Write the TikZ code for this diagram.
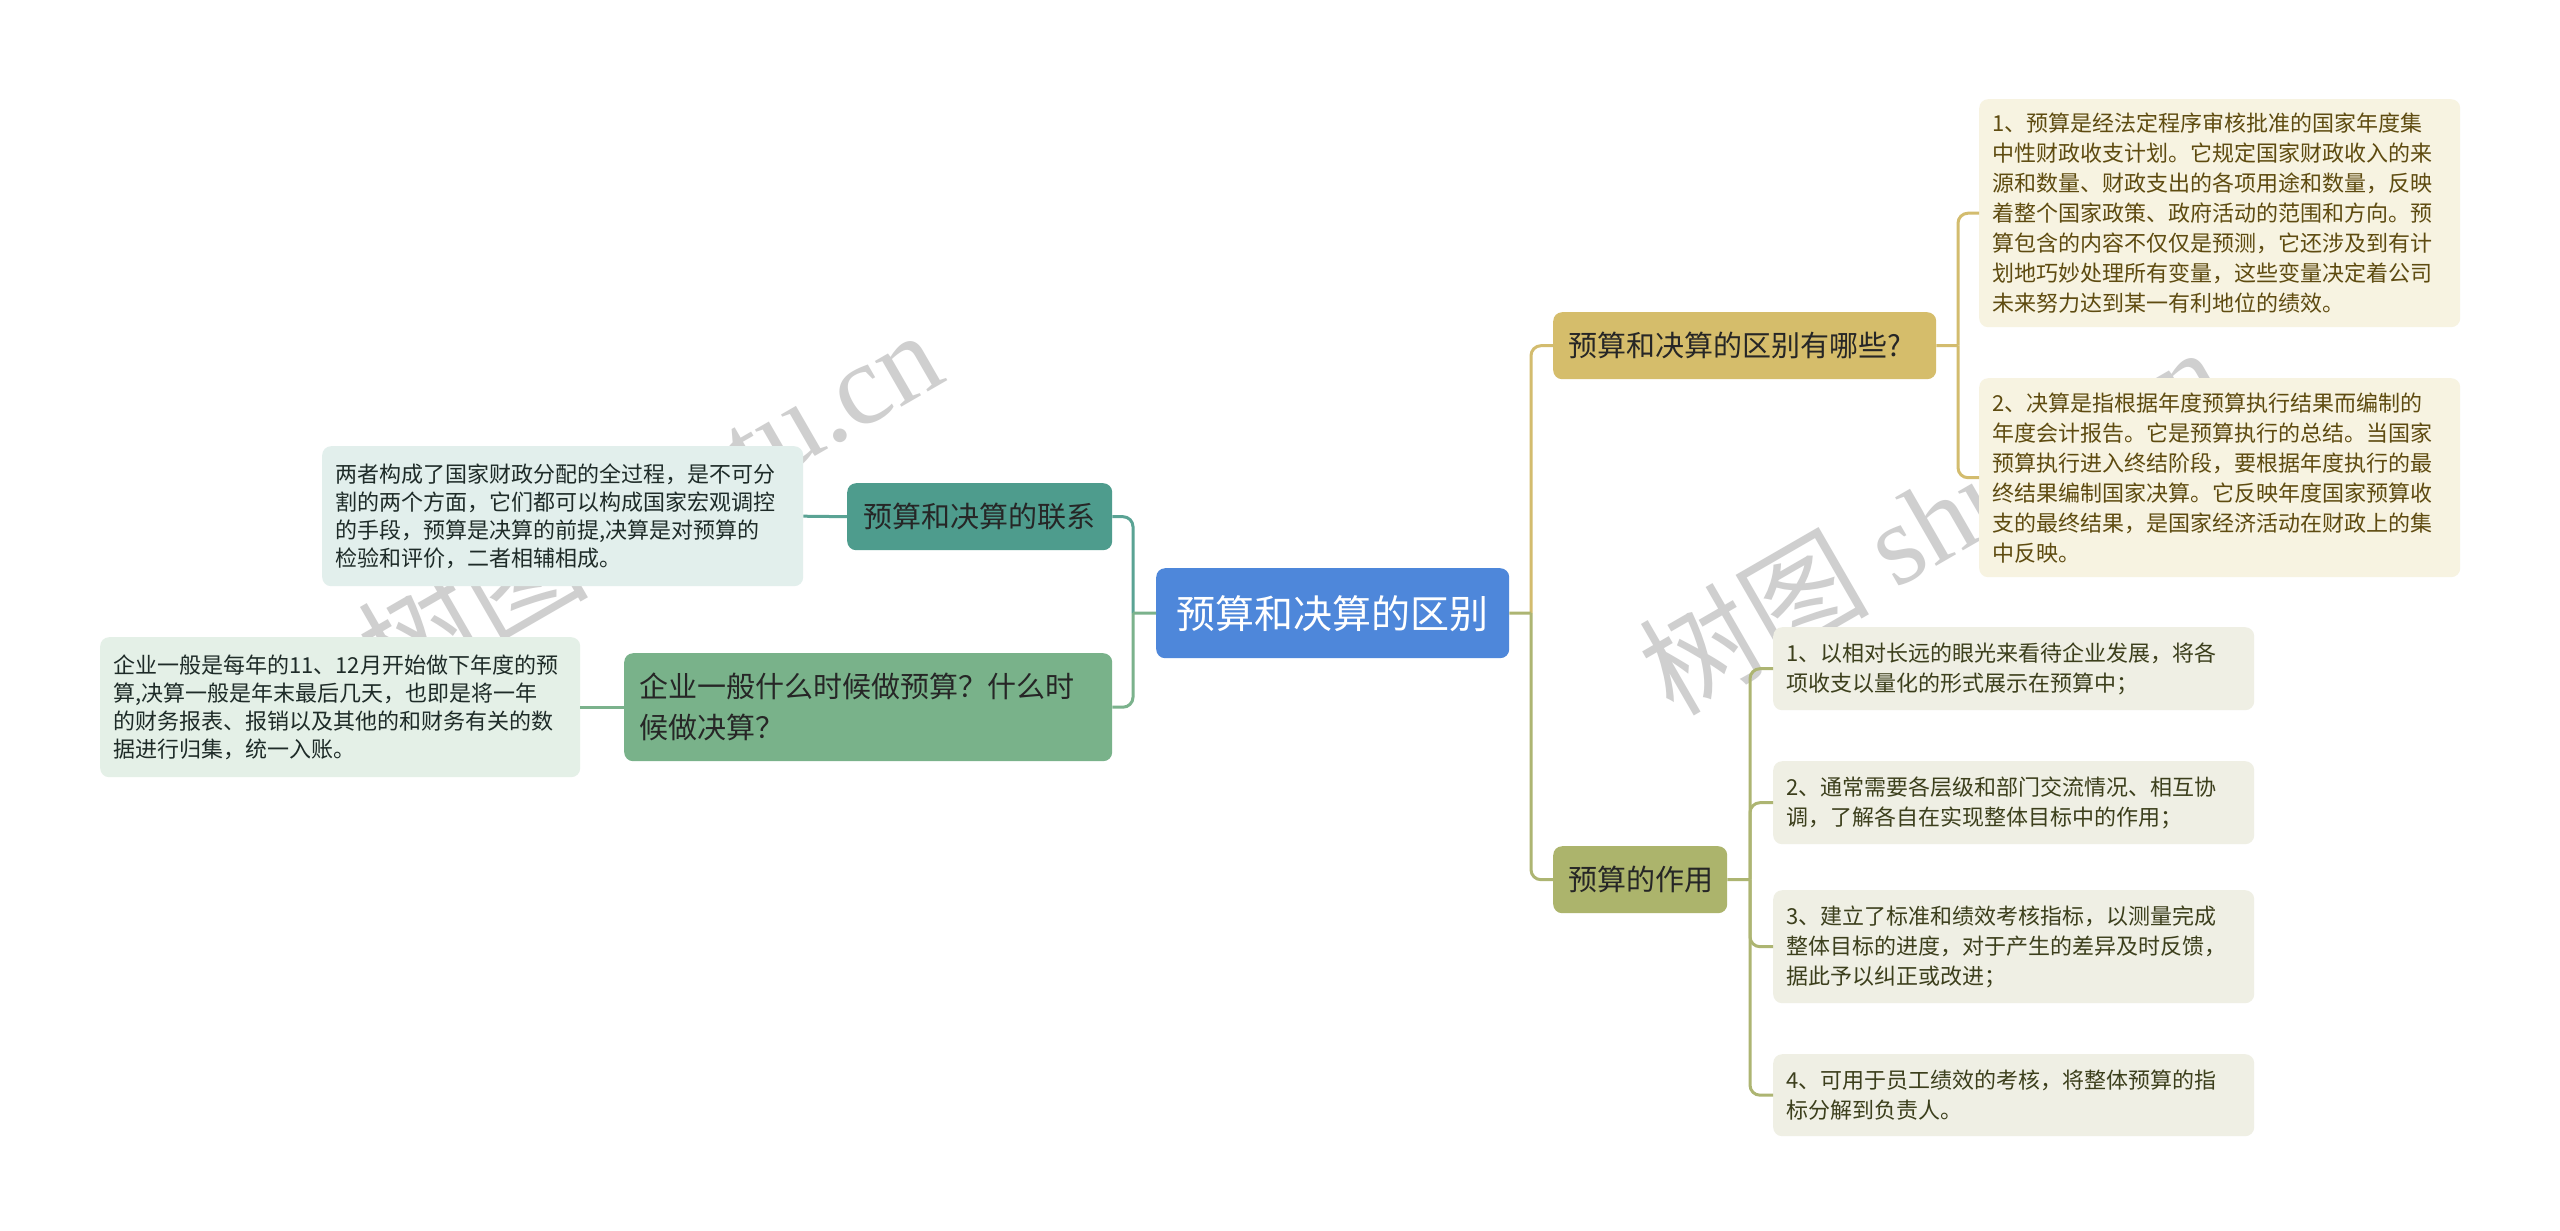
\documentclass[tikz,border=0pt]{standalone}
\usepackage{fontspec}
\setmainfont{Noto Sans CJK SC}
\newfontfamily\wmlatin{Liberation Serif}
\definecolor{cblue}{HTML}{4E87DA}
\definecolor{cgold}{HTML}{D5BD6B}
\definecolor{cgoldline}{HTML}{D3BC6E}
\definecolor{cgoldleaf}{HTML}{F7F3E1}
\definecolor{cgoldtext}{HTML}{5E4B10}
\definecolor{colive}{HTML}{ACB46C}
\definecolor{coliveline}{HTML}{ADB572}
\definecolor{coliveleaf}{HTML}{EFEFE4}
\definecolor{colivetext}{HTML}{3C3F1C}
\definecolor{cteal}{HTML}{4E9C8D}
\definecolor{ctealline}{HTML}{5AA394}
\definecolor{ctealleaf}{HTML}{E2EFEC}
\definecolor{cgreen}{HTML}{79B28A}
\definecolor{cgreenline}{HTML}{7BB28C}
\definecolor{cgreenleaf}{HTML}{E4F0E7}
\definecolor{cleaftext}{HTML}{1E2B28}
\definecolor{cwm}{HTML}{CFCFCF}
\tikzset{
  box/.style={rounded corners=9pt, inner ysep=0pt, anchor=north west, align=left},
  leafbox/.style={box, inner xsep=13pt, font=\fontsize{22}{30}\selectfont},
  leafboxL/.style={box, inner xsep=13pt, font=\fontsize{22}{28}\selectfont},
  branchbox/.style={box, inner xsep=15pt, font=\fontsize{29}{41}\selectfont},
  conn/.style={line width=3pt},
  wmark/.style={text=cwm, rotate=30, font=\fontsize{115}{120}\selectfont}
}
\begin{document}
\begin{tikzpicture}[x=1pt,y=-1pt]
\useasboundingbox (0,0) rectangle (2560,1231);
\fill[white] (0,0) rectangle (2560,1231);
% watermarks
\node[wmark] (wm1) at (649,502) {树图 {\wmlatin shutu.cn}};
\node[wmark] (wm2) at (1930,519) {树图 {\wmlatin shutu.cn}};
% center
\node[box, fill=cblue, text=white, minimum width=353pt, minimum height=90pt, text width=323pt, inner xsep=15pt, align=center, font=\fontsize{39}{44}\selectfont] (c) at (1156,568) {预算和决算的区别};
% right branches
\node[branchbox, fill=cgold, text=black!85, minimum width=383pt, minimum height=67pt, text width=353pt] (b1) at (1553,312) {预算和决算的区别有哪些?};
\node[branchbox, fill=colive, text=black!85, minimum width=174pt, minimum height=67pt, text width=144pt, align=center] (b2) at (1553,846) {预算的作用};
% left branches
\node[branchbox, fill=cteal, text=black!85, minimum width=265pt, minimum height=67pt, text width=235pt, align=center] (l1) at (847,483) {预算和决算的联系};
\node[branchbox, fill=cgreen, text=black!85, minimum width=488pt, minimum height=108pt, text width=458pt] (l2) at (624,653) {企业一般什么时候做预算？什么时\\候做决算？};
% leaves of b1
\node[leafbox, fill=cgoldleaf, text=cgoldtext, minimum width=481pt, minimum height=228pt, text width=455pt] (b1a) at (1979,99) {1、预算是经法定程序审核批准的国家年度集\\中性财政收支计划。它规定国家财政收入的来\\源和数量、财政支出的各项用途和数量，反映\\着整个国家政策、政府活动的范围和方向。预\\算包含的内容不仅仅是预测，它还涉及到有计\\划地巧妙处理所有变量，这些变量决定着公司\\未来努力达到某一有利地位的绩效。};
\node[leafbox, fill=cgoldleaf, text=cgoldtext, minimum width=481pt, minimum height=199pt, text width=455pt] (b1b) at (1979,378) {2、决算是指根据年度预算执行结果而编制的\\年度会计报告。它是预算执行的总结。当国家\\预算执行进入终结阶段，要根据年度执行的最\\终结果编制国家决算。它反映年度国家预算收\\支的最终结果，是国家经济活动在财政上的集\\中反映。};
% leaves of b2
\node[leafbox, fill=coliveleaf, text=colivetext, minimum width=481pt, minimum height=83pt, text width=455pt] (b2a) at (1773,627) {1、以相对长远的眼光来看待企业发展，将各\\项收支以量化的形式展示在预算中；};
\node[leafbox, fill=coliveleaf, text=colivetext, minimum width=481pt, minimum height=83pt, text width=455pt] (b2b) at (1773,761) {2、通常需要各层级和部门交流情况、相互协\\调，了解各自在实现整体目标中的作用；};
\node[leafbox, fill=coliveleaf, text=colivetext, minimum width=481pt, minimum height=113pt, text width=455pt] (b2c) at (1773,890) {3、建立了标准和绩效考核指标，以测量完成\\整体目标的进度，对于产生的差异及时反馈，\\据此予以纠正或改进；};
\node[leafbox, fill=coliveleaf, text=colivetext, minimum width=481pt, minimum height=82pt, text width=455pt] (b2d) at (1773,1054) {4、可用于员工绩效的考核，将整体预算的指\\标分解到负责人。};
% leaves of left branches
\node[leafboxL, fill=ctealleaf, text=cleaftext, minimum width=481pt, minimum height=140pt, text width=455pt] (l1a) at (322,446) {两者构成了国家财政分配的全过程，是不可分\\割的两个方面，它们都可以构成国家宏观调控\\的手段，预算是决算的前提,决算是对预算的\\检验和评价，二者相辅相成。};
\node[leafboxL, fill=cgreenleaf, text=cleaftext, minimum width=480pt, minimum height=140pt, text width=454pt] (l2a) at (100,637) {企业一般是每年的11、12月开始做下年度的预\\算,决算一般是年末最后几天，也即是将一年\\的财务报表、报销以及其他的和财务有关的数\\据进行归集，统一入账。};
% junction coordinates
\coordinate (jr) at (1531,613);
\coordinate (jl) at (1133,613);
\coordinate (jb1) at (1958,345.5);
\coordinate (jb2) at (1750,879.5);
% connectors right of center
\draw[conn, cgoldline, rounded corners=10pt] (jr) |- (b1.west);
\draw[conn, coliveline, rounded corners=10pt] (jr) |- (b2.west);
\draw[conn, coliveline] (c.east) -- (jr);
% connectors left of center
\draw[conn, ctealline, rounded corners=10pt] (jl) |- (l1.east);
\draw[conn, cgreenline, rounded corners=10pt] (jl) |- (l2.east);
\draw[conn, cgreenline] (c.west) -- (jl);
% b1 leaves
\draw[conn, cgoldline] (b1.east) -- (jb1);
\draw[conn, cgoldline, rounded corners=10pt] (jb1) |- (b1a.west);
\draw[conn, cgoldline, rounded corners=10pt] (jb1) |- (b1b.west);
% b2 leaves
\draw[conn, coliveline] (b2.east) -- (jb2);
\draw[conn, coliveline, rounded corners=10pt] (jb2) |- (b2a.west);
\draw[conn, coliveline, rounded corners=10pt] (jb2) |- (b2b.west);
\draw[conn, coliveline, rounded corners=10pt] (jb2) |- (b2c.west);
\draw[conn, coliveline, rounded corners=10pt] (jb2) |- (b2d.west);
% left leaves
\draw[conn, ctealline] (l1.west) -- (l1a.east);
\draw[conn, cgreenline] (l2.west) -- (l2a.east);
\end{tikzpicture}
\end{document}
